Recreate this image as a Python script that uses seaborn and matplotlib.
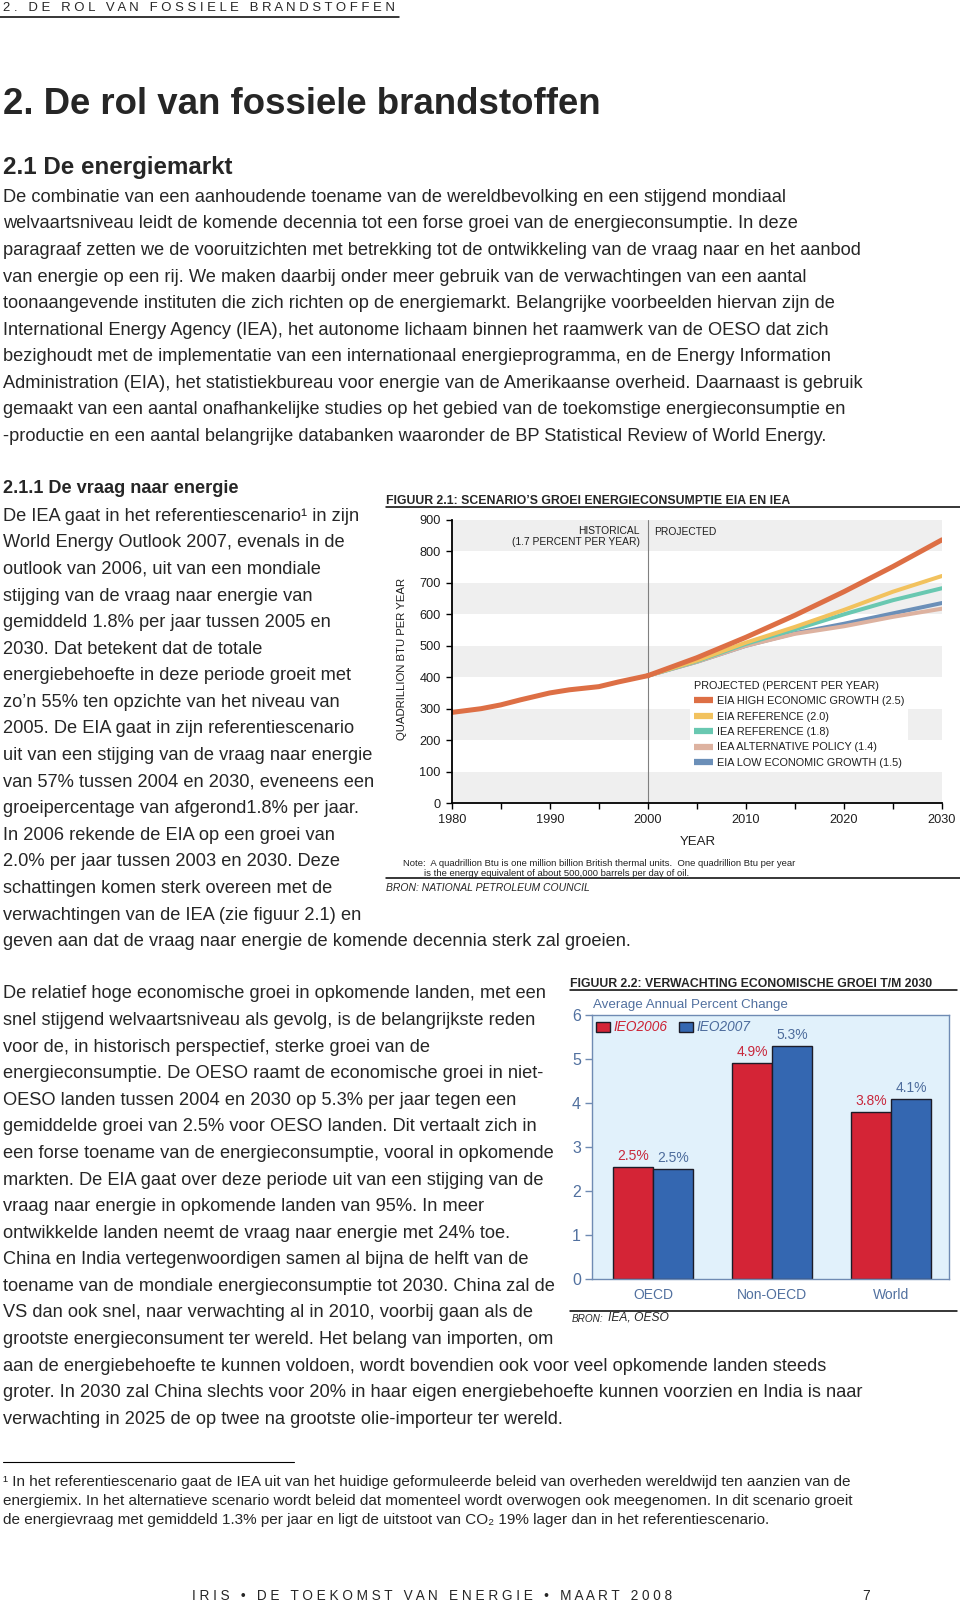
import matplotlib
matplotlib.use("Agg")
import matplotlib.pyplot as plt
from matplotlib import font_manager
from matplotlib.lines import Line2D
from matplotlib.patches import Patch
import seaborn as sns
import pandas as pd

# ---------------- page text ----------------
header = "2. DE ROL VAN FOSSIELE BRANDSTOFFEN"
title = "2. De rol van fossiele brandstoffen"
section = "2.1 De energiemarkt"
para1 = [
    "De combinatie van een aanhoudende toename van de wereldbevolking en een stijgend mondiaal",
    "welvaartsniveau leidt de komende decennia tot een forse groei van de energieconsumptie. In deze",
    "paragraaf zetten we de vooruitzichten met betrekking tot de ontwikkeling van de vraag naar en het aanbod",
    "van energie op een rij. We maken daarbij onder meer gebruik van de verwachtingen van een aantal",
    "toonaangevende instituten die zich richten op de energiemarkt. Belangrijke voorbeelden hiervan zijn de",
    "International Energy Agency (IEA), het autonome lichaam binnen het raamwerk van de OESO dat zich",
    "bezighoudt met de implementatie van een internationaal energieprogramma, en de Energy Information",
    "Administration (EIA), het statistiekbureau voor energie van de Amerikaanse overheid. Daarnaast is gebruik",
    "gemaakt van een aantal onafhankelijke studies op het gebied van de toekomstige energieconsumptie en",
    "-productie en een aantal belangrijke databanken waaronder de BP Statistical Review of World Energy.",
]
subsection = "2.1.1 De vraag naar energie"
para2 = [
    "De IEA gaat in het referentiescenario¹ in zijn",
    "World Energy Outlook 2007, evenals in de",
    "outlook van 2006, uit van een mondiale",
    "stijging van de vraag naar energie van",
    "gemiddeld 1.8% per jaar tussen 2005 en",
    "2030. Dat betekent dat de totale",
    "energiebehoefte in deze periode groeit met",
    "zo’n 55% ten opzichte van het niveau van",
    "2005. De EIA gaat in zijn referentiescenario",
    "uit van een stijging van de vraag naar energie",
    "van 57% tussen 2004 en 2030, eveneens een",
    "groeipercentage van afgerond1.8% per jaar.",
    "In 2006 rekende de EIA op een groei van",
    "2.0% per jaar tussen 2003 en 2030. Deze",
    "schattingen komen sterk overeen met de",
    "verwachtingen van de IEA (zie figuur 2.1) en",
    "geven aan dat de vraag naar energie de komende decennia sterk zal groeien.",
]
para3 = [
    "De relatief hoge economische groei in opkomende landen, met een",
    "snel stijgend welvaartsniveau als gevolg, is de belangrijkste reden",
    "voor de, in historisch perspectief, sterke groei van de",
    "energieconsumptie. De OESO raamt de economische groei in niet-",
    "OESO landen tussen 2004 en 2030 op 5.3% per jaar tegen een",
    "gemiddelde groei van 2.5% voor OESO landen. Dit vertaalt zich in",
    "een forse toename van de energieconsumptie, vooral in opkomende",
    "markten. De EIA gaat over deze periode uit van een stijging van de",
    "vraag naar energie in opkomende landen van 95%. In meer",
    "ontwikkelde landen neemt de vraag naar energie met 24% toe.",
    "China en India vertegenwoordigen samen al bijna de helft van de",
    "toename van de mondiale energieconsumptie tot 2030. China zal de",
    "VS dan ook snel, naar verwachting al in 2010, voorbij gaan als de",
    "grootste energieconsument ter wereld. Het belang van importen, om",
    "aan de energiebehoefte te kunnen voldoen, wordt bovendien ook voor veel opkomende landen steeds",
    "groter. In 2030 zal China slechts voor 20% in haar eigen energiebehoefte kunnen voorzien en India is naar",
    "verwachting in 2025 de op twee na grootste olie-importeur ter wereld.",
]
footnote = [
    "¹ In het referentiescenario gaat de IEA uit van het huidige geformuleerde beleid van overheden wereldwijd ten aanzien van de",
    "energiemix. In het alternatieve scenario wordt beleid dat momenteel wordt overwogen ook meegenomen. In dit scenario groeit",
    "de energievraag met gemiddeld 1.3% per jaar en ligt de uitstoot van CO₂ 19% lager dan in het referentiescenario.",
]
footer = "IRIS • DE TOEKOMST VAN ENERGIE • MAART 2008"
page_no = "7"

# ---------------- figuur 2.1 ----------------
fig1_title = "FIGUUR 2.1: SCENARIO’S GROEI ENERGIECONSUMPTIE EIA EN IEA"
hist_years = [1980, 1983, 1985, 1987, 1990, 1992, 1995, 1997, 2000]
hist_values = [288, 300, 312, 328, 350, 360, 370, 385, 405]
proj_years = [2000, 2005, 2010, 2015, 2020, 2025, 2030]
eia_high = [405, 462, 527, 597, 672, 752, 837]
eia_ref = [405, 453, 510, 560, 614, 672, 722]
iea_ref = [405, 451, 506, 552, 600, 645, 683]
iea_alt = [405, 449, 500, 538, 562, 592, 618]
eia_low = [405, 449, 500, 540, 570, 603, 636]
scenario_names = ["EIA HIGH ECONOMIC GROWTH (2.5)", "EIA REFERENCE (2.0)", "IEA REFERENCE (1.8)",
                  "IEA ALTERNATIVE POLICY (1.4)", "EIA LOW ECONOMIC GROWTH (1.5)"]
scenario_colors = ["#dd6f45", "#f2c25e", "#69c8b1", "#ddb2a0", "#6b8fb8"]
note1 = "Note:  A quadrillion Btu is one million billion British thermal units.  One quadrillion Btu per year"
note2 = "is the energy equivalent of about 500,000 barrels per day of oil."
bron1 = "BRON: NATIONAL PETROLEUM COUNCIL"

# ---------------- figuur 2.2 ----------------
fig2_title = "FIGUUR 2.2: VERWACHTING ECONOMISCHE GROEI T/M 2030"
fig2_sub = "Average Annual Percent Change"
regions = ["OECD", "Non-OECD", "World"]
ieo2006 = [2.55, 4.9, 3.8]
ieo2007 = [2.5, 5.3, 4.1]
labels2006 = ["2.5%", "4.9%", "3.8%"]
labels2007 = ["2.5%", "5.3%", "4.1%"]

# ---------------- setup ----------------
W, H = 960, 1603
sns.set_style("white")
plt.rcParams['font.family'] = ['Liberation Sans', 'DejaVu Sans']
names = {f.name for f in font_manager.fontManager.ttflist}
NARROW = 'Liberation Sans Narrow' if 'Liberation Sans Narrow' in names else 'Liberation Sans'
NARROW_F = [NARROW, 'DejaVu Sans']

fig = plt.figure(figsize=(9.6, 16.03), dpi=100)
fig.patch.set_facecolor('white')
renderer = fig.canvas.get_renderer()


def fit(s, width, **kw):
    # font size that gives the string the wanted pixel width
    t = fig.text(0, 0, s, fontsize=10, **kw)
    w = t.get_window_extent(renderer=renderer).width
    t.remove()
    return 10 * width / w


def put(x, y, s, **kw):
    return fig.text(x / W, 1 - (y + 2) / H, s, va='center', **kw)


def hline(x0, x1, y, lw=1.1):
    fig.add_artist(Line2D([x0 / W, x1 / W], [1 - y / H, 1 - y / H], color='black', lw=lw))


# header
spaced = ' '.join(header)
put(3, 6, spaced, fontsize=fit(spaced, 394))
hline(0, 399, 16.5)

put(3, 102, title, fontsize=fit(title, 598, weight='bold'), weight='bold')
put(3, 165.5, section, fontsize=fit(section, 230, weight='bold'), weight='bold')

body = fit(para1[0], 787)
for i, line in enumerate(para1):
    put(3, 195.3 + 26.58 * i, line, fontsize=body)

put(3, 486.7, subsection, fontsize=fit(subsection, 235, weight='bold'), weight='bold')
for i, line in enumerate(para2):
    put(3, 514.3 + 26.58 * i, line, fontsize=body)
for i, line in enumerate(para3):
    put(3, 992 + 26.58 * i, line, fontsize=body)

hline(3, 294, 1462, lw=0.8)
fn = fit(footnote[0], 849, family=NARROW_F)
for i, line in enumerate(footnote):
    put(3, 1480 + 19 * i, line, fontsize=fn, family=NARROW_F)

spaced_f = ' '.join(footer)
fs = fit(spaced_f, 483)
put(192, 1594, spaced_f, fontsize=fs)
put(862, 1594, page_no, fontsize=fs)

# ---------------- figuur 2.1 ----------------
put(386, 499, fig1_title, fontsize=fit(fig1_title, 402, weight='bold'), weight='bold')
hline(386, 960, 507)

ax1 = fig.add_axes([451.7 / W, 1 - 803 / H, (942 - 451.7) / W, (803 - 520) / H])
for lo in range(0, 900, 200):
    ax1.axhspan(lo, lo + 100, color='#efefef', lw=0, zorder=0)
ax1.axvline(2000, color='#808080', lw=0.8, zorder=1)

palette = dict(zip(scenario_names, scenario_colors))
proj = pd.DataFrame({'year': proj_years, scenario_names[0]: eia_high, scenario_names[1]: eia_ref,
                     scenario_names[2]: iea_ref, scenario_names[3]: iea_alt, scenario_names[4]: eia_low})
proj = proj.melt(id_vars='year', var_name='scenario', value_name='value')
hist = pd.DataFrame({'year': hist_years, 'value': hist_values})

draw_order = [scenario_names[4], scenario_names[3], scenario_names[2], scenario_names[1], scenario_names[0]]
sns.lineplot(data=proj, x='year', y='value', hue='scenario', hue_order=draw_order, palette=palette,
             linewidth=2.9, legend=False, errorbar=None, ax=ax1)
sns.lineplot(data=hist, x='year', y='value', color=scenario_colors[0], linewidth=3.6, errorbar=None, ax=ax1)
ax1.lines[-2].set_linewidth(3.6)

ax1.set_xlim(1980, 2030)
ax1.set_ylim(0, 900)
ax1.set_xticks(range(1980, 2031, 10))
ax1.set_xticks(range(1985, 2030, 10), minor=True)
ax1.set_yticks(range(0, 901, 100))
for side in ['top', 'right']:
    ax1.spines[side].set_visible(False)
for side in ['left', 'bottom']:
    ax1.spines[side].set_color('black')
    ax1.spines[side].set_linewidth(1.3)
ax1.tick_params(axis='both', which='both', direction='out', length=4, width=1, color='black',
                labelsize=9.2, labelcolor='#1e1e1e', pad=4, bottom=True, left=True)
for lab in ax1.get_xticklabels() + ax1.get_yticklabels():
    lab.set_family(NARROW_F)
ylab = 'QUADRILLION BTU PER YEAR'
ax1.set_xlabel('YEAR', fontsize=9.5, family=NARROW_F, color='#1e1e1e')
ax1.set_ylabel(ylab, fontsize=fit(ylab, 163, family=NARROW_F), family=NARROW_F, color='#1e1e1e')
ax1.xaxis.set_label_coords((698 - 451.7) / 490.3, (803 - 836) / 283)
ax1.yaxis.set_label_coords((407 - 451.7) / 490.3, (803 - 659) / 283)

ann = 7.4
ax1.text(1999.2, 848, 'HISTORICAL\n(1.7 PERCENT PER YEAR)', ha='right', va='center', multialignment='right',
         fontsize=ann, family=NARROW_F, color='#1e1e1e', linespacing=1.15)
ax1.text(2000.6, 862, 'PROJECTED', ha='left', va='center', fontsize=ann, family=NARROW_F, color='#1e1e1e')

lsize = 7.8
handles = [Line2D([], [], color=c, lw=4.5, solid_capstyle='butt') for c in scenario_colors]
leg = ax1.legend(handles, scenario_names, title='PROJECTED (PERCENT PER YEAR)', loc='upper left',
                 bbox_to_anchor=((690 - 451.7) / 490.3, (803 - 677) / 283), frameon=True, fancybox=False,
                 facecolor='white', edgecolor='none', framealpha=1, handlelength=1.8, handletextpad=0.3,
                 labelspacing=0.5, borderpad=0.35, borderaxespad=0, alignment='left',
                 prop={'family': NARROW_F, 'size': lsize}, title_fontproperties={'family': NARROW_F, 'size': lsize})
for t in leg.get_texts():
    t.set_color('#1e1e1e')
leg.get_title().set_color('#1e1e1e')

nsize = fit(note1, 392, family=NARROW_F)
put(403, 861, note1, fontsize=nsize, family=NARROW_F, color='#222222')
put(424, 872, note2, fontsize=nsize, family=NARROW_F, color='#222222')
hline(386, 960, 877.5)
put(386, 886, bron1, fontsize=fit(bron1, 203, style='italic'), style='italic')

# ---------------- figuur 2.2 ----------------
put(570, 981.5, fig2_title, fontsize=fit(fig2_title, 361, weight='bold'), weight='bold')
hline(570, 957, 990)
put(593, 1003, fig2_sub, fontsize=fit(fig2_sub, 196), color='#51709f')

red, blue = '#d42436', '#3467b1'
grey_blue = '#51709f'
ax2 = fig.add_axes([592 / W, 1 - 1279.3 / H, (949 - 592) / W, (1279.3 - 1015) / H])
ax2.set_facecolor('#e1f1fb')
df2 = pd.DataFrame({'region': regions * 2, 'growth': ieo2006 + ieo2007,
                    'outlook': ['IEO2006'] * 3 + ['IEO2007'] * 3})
sns.barplot(data=df2, x='region', y='growth', hue='outlook', palette={'IEO2006': red, 'IEO2007': blue},
            saturation=1, width=0.672, edgecolor='#1c1c28', linewidth=1, errorbar=None, legend=False, ax=ax2)
ax2.set_xlim(-0.513, 2.487)
ax2.set_ylim(0, 6)
ax2.set_yticks(range(0, 7))
ax2.set_xlabel('')
ax2.set_ylabel('')
for side in ax2.spines.values():
    side.set_visible(True)
    side.set_color('#6f8bb3')
    side.set_linewidth(1)
ax2.tick_params(axis='y', direction='out', length=5, width=1, color='#6f8bb3', labelsize=11.5,
                labelcolor=grey_blue, pad=3, left=True)
ax2.tick_params(axis='x', length=0, labelsize=10, labelcolor=grey_blue, pad=6)

for cont, labs, col in zip(ax2.containers, [labels2006, labels2007], ['#c8283c', '#4d6c9c']):
    ax2.bar_label(cont, labels=labs, padding=3, color=col, fontsize=10)

leg2 = ax2.legend([Patch(facecolor=red, edgecolor='#1c1c28'), Patch(facecolor=blue, edgecolor='#1c1c28')],
                  ['IEO2006', 'IEO2007'], loc='upper left', bbox_to_anchor=(0.004, 0.99), ncol=2,
                  frameon=False, handlelength=1.0, handleheight=0.78, handletextpad=0.25,
                  columnspacing=0.9, borderpad=0.2, borderaxespad=0, prop={'style': 'italic', 'size': 9.8})
for t, c in zip(leg2.get_texts(), ['#cc2233', '#4b6a9b']):
    t.set_color(c)

hline(570, 957, 1311)
put(571.5, 1316.5, 'BRON:', fontsize=fit('BRON:', 31.6, style='italic'), style='italic')
put(607.5, 1316, 'IEA, OESO', fontsize=fit('IEA, OESO', 60.6, style='italic'), style='italic')

fig.savefig('out.png', dpi=100, facecolor='white')
